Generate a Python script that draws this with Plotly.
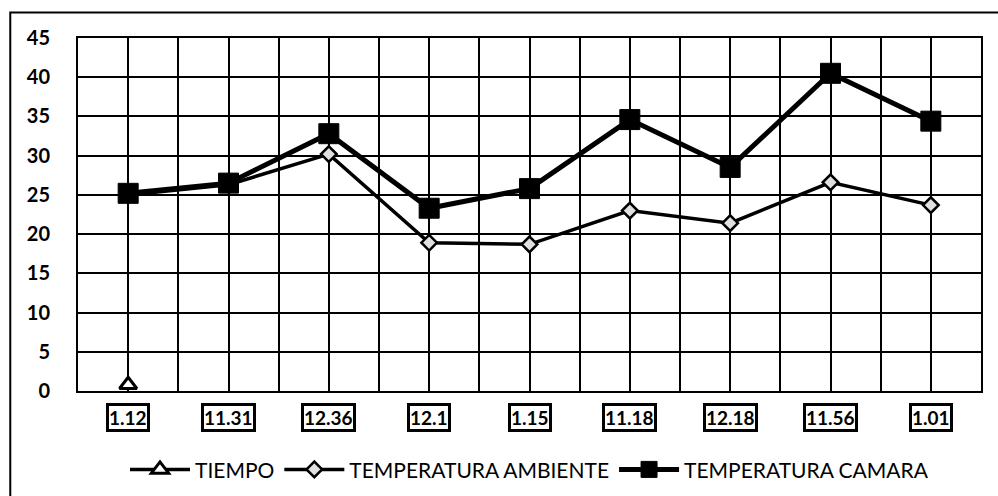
import plotly.graph_objects as go

categorias = ["1.12", "11.31", "12.36", "12.1", "1.15", "11.18", "12.18", "11.56", "1.01"]
tiempo = [0.8, None, None, None, None, None, None, None, None]
temp_ambiente = [25.0, 26.3, 30.2, 18.9, 18.7, 23.0, 21.4, 26.6, 23.7]
temp_camara = [25.2, 26.5, 32.8, 23.3, 25.8, 34.6, 28.5, 40.5, 34.4]
y_ticks = [0, 5, 10, 15, 20, 25, 30, 35, 40, 45]

posiciones = list(range(len(categorias)))
FONT = "Lato"

fig = go.Figure()

fig.add_trace(go.Scatter(
    x=posiciones, y=tiempo, name="TIEMPO", mode="lines+markers",
    line=dict(color="black", width=3.5),
    marker=dict(symbol="triangle-up", size=15, color="white",
                line=dict(color="black", width=3)),
))
fig.add_trace(go.Scatter(
    x=posiciones, y=temp_ambiente, name="TEMPERATURA AMBIENTE", mode="lines+markers",
    line=dict(color="black", width=3.5),
    marker=dict(symbol="diamond", size=12, color="#e0e0e0",
                line=dict(color="black", width=2.5)),
))
fig.add_trace(go.Scatter(
    x=posiciones, y=temp_camara, name="TEMPERATURA CAMARA", mode="lines+markers",
    line=dict(color="black", width=5),
    marker=dict(symbol="square", size=20, color="black",
                line=dict(color="black", width=1)),
))

# Boxed category labels under the axis
for pos, cat in zip(posiciones, categorias):
    fig.add_annotation(
        x=pos, xref="x", y=-0.075, yref="paper", yanchor="middle",
        text=f"<b>{cat}</b>", showarrow=False,
        font=dict(family=FONT, size=19, color="black"),
        bordercolor="black", borderwidth=3, borderpad=0, bgcolor="white",
    )

# Outer chart frame
fig.add_shape(type="rect", xref="paper", yref="paper",
              x0=-0.075, x1=1.05, y0=-0.5, y1=1.072,
              line=dict(color="black", width=2))

fig.update_layout(
    width=998, height=496,
    margin=dict(l=78, r=17, t=38, b=105, autoexpand=False),
    paper_bgcolor="white", plot_bgcolor="white",
    showlegend=True,
    legend=dict(orientation="h", x=0.5, xanchor="center", y=-0.165, yanchor="top",
                font=dict(family=FONT, size=21, color="black"),
                itemwidth=60, traceorder="normal", tracegroupgap=0),
    xaxis=dict(range=[-0.5, len(categorias) - 0.5], tickmode="linear", tick0=-0.5, dtick=0.5,
               showticklabels=False, showgrid=True, gridcolor="black", gridwidth=1.5,
               showline=True, linecolor="black", linewidth=2, mirror=True, zeroline=False),
    yaxis=dict(range=[0, 45], tickvals=y_ticks,
               tickfont=dict(family=FONT, size=20, color="black", weight="bold"),
               showgrid=True, gridcolor="black", gridwidth=1.5,
               showline=True, linecolor="black", linewidth=2, mirror=True, zeroline=False,
               ticklabelstandoff=22),
)

fig.write_html("out.html")
